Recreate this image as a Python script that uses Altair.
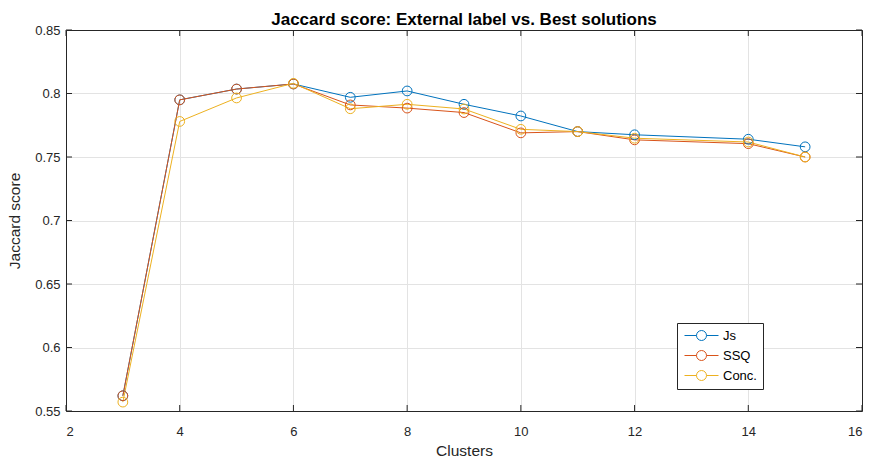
import altair as alt
import pandas as pd

clusters = [3, 4, 5, 6, 7, 8, 9, 10, 11, 12, 14, 15]
js = [0.562, 0.795, 0.8035, 0.8075, 0.797, 0.802, 0.7915, 0.7823, 0.770, 0.7675, 0.764, 0.758]
ssq = [0.562, 0.795, 0.8035, 0.8075, 0.791, 0.7885, 0.785, 0.769, 0.770, 0.7635, 0.7605, 0.750]
conc = [0.557, 0.778, 0.7965, 0.808, 0.788, 0.7915, 0.7878, 0.7718, 0.770, 0.7648, 0.7618, 0.750]
series_names = ["Js", "SSQ", "Conc."]
colors = ["#0072BD", "#D95319", "#EDB120"]
x_ticks = [2, 4, 6, 8, 10, 12, 14, 16]
y_ticks = [0.55, 0.6, 0.65, 0.7, 0.75, 0.8, 0.85]

rows = []
for name, vals in zip(series_names, [js, ssq, conc]):
    for c, v in zip(clusters, vals):
        rows.append({"Clusters": c, "score": v, "series": name})
df = pd.DataFrame(rows)

W, H = 796, 381
FONT = "Liberation Sans"
AX = "#262626"

xs = alt.Scale(domain=[2, 16], nice=False, zero=False)
ys = alt.Scale(domain=[0.55, 0.85], nice=False, zero=False)

# legend symbol: line with a circle, extending to the right of the nominal symbol box
SYM = "M-1,0H1.4M3.4,0H5.8M3.4,0A1,1,0,1,1,1.4,0A1,1,0,1,1,3.4,0"

color = alt.Color(
    "series:N",
    scale=alt.Scale(domain=series_names, range=colors),
    sort=series_names,
    legend=alt.Legend(
        title=None, orient="none", legendX=611, legendY=293,
        fillColor="white", strokeColor=AX, padding=6,
        symbolType=SYM, symbolSize=100, symbolStrokeWidth=1, labelFontSize=13, labelFont=FONT,
        labelColor="black", rowPadding=5, labelOffset=27,
    ),
)

xaxis = alt.Axis(values=x_ticks, title="Clusters", grid=True, tickSize=0, labelPadding=14,
                 titleFontSize=15.5, titleFontWeight="normal", titlePadding=5, labelFontSize=13,
                 format="d")
yaxis = alt.Axis(values=y_ticks, title="Jaccard score", grid=True, tickSize=0, labelPadding=6,
                 titleFontSize=15.5, titleFontWeight="normal", titlePadding=12, labelFontSize=13,
                 format="~g")

base = alt.Chart(df)
lines = base.mark_line(strokeWidth=1).encode(
    x=alt.X("Clusters:Q", scale=xs, axis=xaxis),
    y=alt.Y("score:Q", scale=ys, axis=yaxis),
    color=color,
    detail="series:N",
)
points = base.mark_point(filled=False, size=95, strokeWidth=1, opacity=1).encode(
    x=alt.X("Clusters:Q", scale=xs, axis=None),
    y=alt.Y("score:Q", scale=ys, axis=None),
    color=color,
)

xt = pd.DataFrame({"t": x_ticks})
yt = pd.DataFrame({"t": y_ticks})
top_axis = alt.Chart(xt).mark_rule(color=AX, strokeWidth=1).encode(
    x=alt.X("t:Q", scale=xs, axis=alt.Axis(orient="top", labels=False, ticks=False, title=None, grid=False, values=x_ticks)),
    y=alt.value(0), y2=alt.value(6),
)
bottom_ticks = alt.Chart(xt).mark_rule(color=AX, strokeWidth=1).encode(
    x=alt.X("t:Q", scale=xs, axis=None), y=alt.value(H - 6), y2=alt.value(H),
)
right_axis = alt.Chart(yt).mark_rule(color=AX, strokeWidth=1).encode(
    y=alt.Y("t:Q", scale=ys, axis=alt.Axis(orient="right", labels=False, ticks=False, title=None, grid=False, values=y_ticks)),
    x=alt.value(W - 6), x2=alt.value(W),
)
left_ticks = alt.Chart(yt).mark_rule(color=AX, strokeWidth=1).encode(
    y=alt.Y("t:Q", scale=ys, axis=None), x=alt.value(0), x2=alt.value(6),
)

chart = alt.layer(lines, points, bottom_ticks, left_ticks, top_axis, right_axis).resolve_axis(
    x="independent", y="independent"
).properties(
    width=W, height=H,
    title=alt.Title("Jaccard score: External label vs. Best solutions", fontSize=17,
                    fontWeight="bold", font=FONT, color="black", offset=-5),
    padding={"left": 66, "top": 30, "right": 9, "bottom": 48},
    autosize="none",
).configure_axis(
    domainColor=AX, domainWidth=1, labelColor=AX, titleColor=AX, labelFont=FONT, titleFont=FONT,
    gridColor="#e3e3e3", gridWidth=1,
).configure_view(stroke=None)

chart.save("out.html", embed_options={"renderer": "svg", "actions": False})
